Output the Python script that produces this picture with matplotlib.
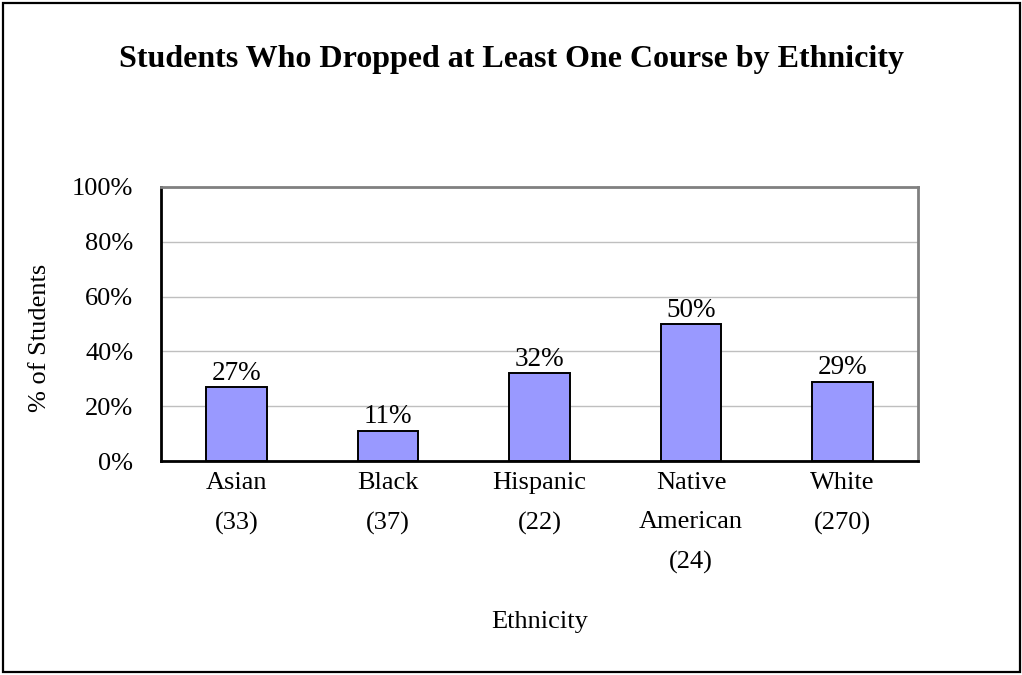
import numpy as np
import matplotlib.pyplot as plt
from matplotlib.patches import Rectangle

plt.rcParams['font.family'] = ['Liberation Serif', 'DejaVu Serif']

groups = ["Asian", "Black", "Hispanic", "Native\nAmerican", "White"]
counts = [33, 37, 22, 24, 270]
pct_dropped = [27, 11, 32, 50, 29]

fig = plt.figure(figsize=(10.22, 6.75), dpi=100)
ax = fig.add_axes([0.1575, 0.317, 0.741, 0.406])

x = np.arange(len(groups))
bars = ax.bar(x, pct_dropped, width=0.4, color='#9999FF',
              edgecolor='black', linewidth=1.4, zorder=3)

for b, v in zip(bars, pct_dropped):
    ax.annotate(f"{v}%", (b.get_x() + b.get_width() / 2, v),
                xytext=(0, 1), textcoords='offset points',
                ha='center', va='bottom', fontsize=19.5)

ax.set_xlim(-0.5, len(groups) - 0.5)
ax.set_ylim(0, 100)
ax.set_yticks(np.arange(0, 101, 20))
ax.set_yticklabels([f"{t}%" for t in range(0, 101, 20)], fontsize=19)
ax.set_xticks(x)
ax.set_xticklabels([f"{g}\n({n})" for g, n in zip(groups, counts)],
                   fontsize=19, linespacing=2.0)
ax.tick_params(axis='y', length=0, pad=20)
ax.tick_params(axis='x', length=0, pad=8)

ax.yaxis.grid(True, color='#BFBFBF', linewidth=1.0, zorder=0)
ax.set_axisbelow(True)
for side in ['left', 'bottom']:
    ax.spines[side].set_color('black')
    ax.spines[side].set_linewidth(2)
for side in ['top', 'right']:
    ax.spines[side].set_color('#808080')
    ax.spines[side].set_linewidth(2)

fig.text(0.5, 1 - 60 / 675, "Students Who Dropped at Least One Course by Ethnicity",
         ha='center', va='center', fontsize=23, fontweight='bold')
fig.text(40 / 1022, 1 - 338 / 675, "% of Students", rotation=90,
         ha='center', va='center', fontsize=19)
fig.text(539.5 / 1022, 1 - 622 / 675, "Ethnicity",
         ha='center', va='center', fontsize=19)

# outer chart border
fig.patches.append(Rectangle((3 / 1022, 3 / 675), 1 - 5 / 1022, 1 - 6 / 675,
                             transform=fig.transFigure, fill=False,
                             edgecolor='black', linewidth=1.6))

fig.savefig("out.png", dpi=100)
